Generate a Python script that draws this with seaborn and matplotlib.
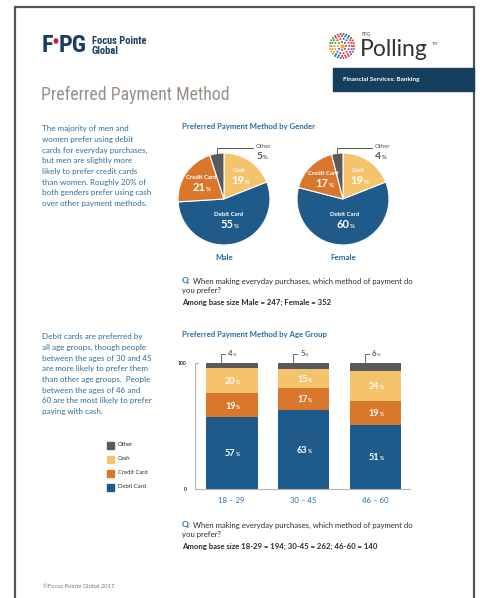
import numpy as np
import pandas as pd
import matplotlib
matplotlib.use("Agg")
import matplotlib.pyplot as plt
from matplotlib.patches import Rectangle
import seaborn as sns

# ---------------- data ----------------
methods = ["Debit Card", "Credit Card", "Cash", "Other"]
genders = ["Male", "Female"]
gender_debit = [55, 60]
gender_credit = [21, 17]
gender_cash = [19, 19]
gender_other = [5, 4]
ages = ["18 – 29", "30 – 45", "46 – 60"]
age_debit = [57, 63, 51]
age_credit = [19, 17, 19]
age_cash = [20, 15, 24]
age_other = [4, 5, 6]
base_gender = "Among base size Male = 247; Female = 352"
base_age = "Among base size 18-29 = 194; 30-45 = 262; 46-60 = 140"
question = "When making everyday purchases, which method of payment do"

para1 = ["The majority of men and", "women prefer using debit", "cards for everyday purchases,",
         "but men are slightly more", "likely to prefer credit cards", "than women. Roughly 20% of",
         "both genders prefer using cash", "over other payment methods."]
para2 = ["Debit cards are preferred by", "all age groups, though people", "between the ages of 30 and 45",
         "are more likely to prefer them", "than other age groups.  People", "between the ages of 46 and",
         "60 are the most likely to prefer", "paying with cash."]

# ---------------- style ----------------
sns.set_theme(style="white")
plt.rcParams["font.family"] = ["Lato", "DejaVu Sans"]

C_DEBIT = "#1e5b8a"
C_CREDIT = "#d9782d"
C_CASH = "#f5c36b"
C_OTHER = "#5a5a5c"
colors = {"Debit Card": C_DEBIT, "Credit Card": C_CREDIT, "Cash": C_CASH, "Other": C_OTHER}
BLUE = "#2c6ca3"
NAVY = "#1b3d5f"
DARK = "#2b2b2b"

W, H = 484, 598
fig = plt.figure(figsize=(W / 100, H / 100), dpi=100)
fig.patch.set_facecolor("white")


def fx(x):
    return x / W


def fy(y):
    return 1 - y / H


def T(x, y, s, **kw):
    kw.setdefault("va", "center")
    kw.setdefault("ha", "left")
    return fig.text(fx(x), fy(y), s, **kw)


# page frame
fig.patches.append(Rectangle((fx(15), fy(604)), fx(474) - fx(15), fy(7) - fy(604),
                             transform=fig.transFigure, fill=False, edgecolor="#555555", lw=1.6))

cond = ["Roboto Condensed", "DejaVu Sans"]

# ---- FPG logo ----
T(42, 46, "F", fontsize=17.5, fontweight="bold", color=NAVY, family=cond, fontstretch="condensed")
T(59, 46, "PG", fontsize=17.5, fontweight="bold", color=NAVY, family=cond, fontstretch="condensed")
T(92, 40.5, "Focus Pointe", fontsize=7.6, fontweight="bold", color=NAVY, family=cond, fontstretch="condensed")
T(92, 51, "Global", fontsize=7.6, fontweight="bold", color=NAVY, family=cond, fontstretch="condensed")
fig.patches.append(plt.Circle((fx(56), fy(41)), 1.7 / W, transform=fig.transFigure, color="#d0202e"))

# ---- Polling logo ----
lax = fig.add_axes([fx(329), fy(59), 26 / W, 26 / H])
lax.set_xlim(-1.1, 1.1)
lax.set_ylim(-1.1, 1.1)
lax.set_aspect("equal")
lax.axis("off")
ring_cols = ["#e63b3b", "#2f6fb8", "#e63b3b", "#3aa55a", "#f0a020", "#2f6fb8", "#e63b3b", "#8a5ab0"]
for rr, n in [(0.35, 8), (0.62, 14), (0.85, 20), (1.02, 26)]:
    ang = np.linspace(0, 2 * np.pi, n, endpoint=False)
    cc = [ring_cols[int(a / (2 * np.pi) * 8) % 8] for a in ang]
    lax.scatter(rr * np.cos(ang), rr * np.sin(ang), s=2.2, c=cc, linewidths=0)
lax.scatter([0], [0], s=10, c="#f3b13a", linewidths=0)
T(362, 35, "FPG", fontsize=3.5, color="#555555")
T(360, 50, "Polling", fontsize=16.5, color="#333333")
T(432, 44, "TM", fontsize=3, color="#555555")
fig.patches.append(Rectangle((fx(333), fy(91)), fx(474) - fx(333), fy(68) - fy(91),
                             transform=fig.transFigure, color="#163f5e"))
T(343, 80, "Financial Services: Banking", fontsize=4.6, fontweight="bold", color="white")

# ---- title ----
T(41, 95, "Preferred Payment Method", fontsize=12.8, color="#9a9087", family=cond, fontstretch="condensed")

# ---- paragraphs ----
for i, line in enumerate(para1):
    T(42, 129 + i * 10.6, line, fontsize=5.8, color=BLUE)
for i, line in enumerate(para2):
    T(42, 337 + i * 10.6, line, fontsize=5.8, color=BLUE)

# ---- gender pies ----
T(182, 127, "Preferred Payment Method by Gender", fontsize=5.6, fontweight="bold", color=BLUE)


def pct(ax, x, y, num, size, color, clip=False):
    s = str(num)
    d = (0.56 * size * len(s) - 0.27 * size) / 2
    yo = -0.36 * size
    ax.annotate(s, xy=(x, y), xytext=(d, yo), textcoords="offset points", ha="right", va="baseline",
                fontsize=size, color=color, fontweight="bold", annotation_clip=clip)
    ax.annotate("%", xy=(x, y), xytext=(d + 0.2, yo), textcoords="offset points", ha="left",
                va="baseline", fontsize=size * 0.55, color=color, fontweight="bold",
                annotation_clip=clip)


pie_centers = [(224, 199), (343, 199)]
R = 46
for gi, g in enumerate(genders):
    cx, cy = pie_centers[gi]
    ax = fig.add_axes([fx(cx - R), fy(cy + R), 2 * R / W, 2 * R / H])
    vals = [gender_cash[gi], gender_debit[gi], gender_credit[gi], gender_other[gi]]
    names = ["Cash", "Debit Card", "Credit Card", "Other"]
    wedges, _ = ax.pie(vals, colors=[colors[n] for n in names], startangle=90, counterclock=False,
                       wedgeprops=dict(edgecolor="white", linewidth=0.8))
    ax.set_xlim(-1, 1)
    ax.set_ylim(-1, 1)
    ax.set_aspect("equal")
    for w, n, v in zip(wedges, names, vals):
        mid = np.deg2rad((w.theta1 + w.theta2) / 2)
        if n == "Other":
            x0, y0 = np.cos(mid), np.sin(mid)
            ax.plot([x0, x0, 0.62], [y0, 1.1, 1.1], color="#555555", lw=0.7, clip_on=False)
            ax.text(0.68, 1.14, "Other", fontsize=4.3, color="#555555", ha="left", va="center")
            pct(ax, 0.8, 0.95, v, 7.5, "#555555")
            continue
        rr = 0.47 if n == "Debit Card" else 0.6
        lx, ly = rr * np.cos(mid), rr * np.sin(mid)
        ax.text(lx, ly + 0.13, n, fontsize=4.3, color="white", fontweight="bold", ha="center", va="center")
        pct(ax, lx, ly - 0.08, v, 8, "white")
    T(cx, 258, g, fontsize=5.8, fontweight="bold", color=BLUE, ha="center")

T(182, 281, "Q:", fontsize=6, fontweight="bold", color=BLUE)
T(193, 281, question, fontsize=5.6, color=DARK)
T(182, 291, "you prefer?", fontsize=5.6, color=DARK)
T(182, 302, base_gender, fontsize=5.6, fontweight="bold", color=DARK)

# ---- age stacked bars (seaborn) ----
T(182, 335, "Preferred Payment Method by Age Group", fontsize=5.6, fontweight="bold", color=BLUE)
bx = fig.add_axes([fx(195), fy(489), 215 / W, 126 / H])
df = pd.DataFrame({"age": ages, "Debit Card": age_debit, "Credit Card": age_credit,
                   "Cash": age_cash, "Other": age_other})
order = ["Debit Card", "Credit Card", "Cash", "Other"]
cum = df[order].cumsum(axis=1)
for m in reversed(order):
    sns.barplot(x=df["age"], y=cum[m], color=colors[m], saturation=1, width=0.72,
                linewidth=0, ax=bx, errorbar=None)
bx.set_xlim(-0.51, 2.48)
bx.set_ylim(0, 100)
bx.set_xlabel("")
bx.set_ylabel("")
bx.set_facecolor("none")
for s in ["top", "right"]:
    bx.spines[s].set_visible(False)
for s in ["left", "bottom"]:
    bx.spines[s].set_color("#b5b5b5")
    bx.spines[s].set_linewidth(0.8)
bx.set_yticks([0, 100])
bx.set_yticklabels(["0", "100"], fontsize=3.6, fontweight="bold", color=DARK)
bx.tick_params(axis="y", length=0, pad=6)
bx.set_xticks(range(len(ages)))
bx.set_xticklabels(ages, fontsize=5.6, color=BLUE)
bx.tick_params(axis="x", length=0, pad=6)
bx.set_xticks([0.5, 1.5], minor=True)
bx.tick_params(axis="x", which="minor", length=2.5, direction="in", color="#b5b5b5", width=0.8)
bx.plot([-0.51, -0.47], [100, 100], color="#b5b5b5", lw=0.8, clip_on=False)

for i in range(len(ages)):
    base = 0
    for m in order:
        v = df[m][i]
        if m == "Other":
            lx = i - 0.15
            bx.plot([lx, lx, lx + 0.06], [100, 107.5, 107.5], color="#666666", lw=0.7, clip_on=False)
            pct(bx, i + 0.0, 108, v, 5.6, "#666666")
        else:
            pct(bx, i, base + v / 2, v, 6.6, "white")
        base += v

# legend
for k, m in enumerate(["Other", "Cash", "Credit Card", "Debit Card"]):
    yy = 445 + k * 14
    fig.patches.append(Rectangle((fx(107), fy(yy + 3.5)), 7 / W, 7 / H, transform=fig.transFigure,
                                 color=colors[m]))
    T(118, yy, m, fontsize=4.2, color=DARK)

T(182, 525, "Q:", fontsize=6, fontweight="bold", color=BLUE)
T(193, 525, question, fontsize=5.6, color=DARK)
T(182, 535, "you prefer?", fontsize=5.6, color=DARK)
T(182, 546, base_age, fontsize=5.6, fontweight="bold", color=DARK)

T(43, 586, "©Focus Pointe Global 2017", fontsize=4.2, color="#777777")

fig.savefig("out.png", dpi=100, facecolor="white")
